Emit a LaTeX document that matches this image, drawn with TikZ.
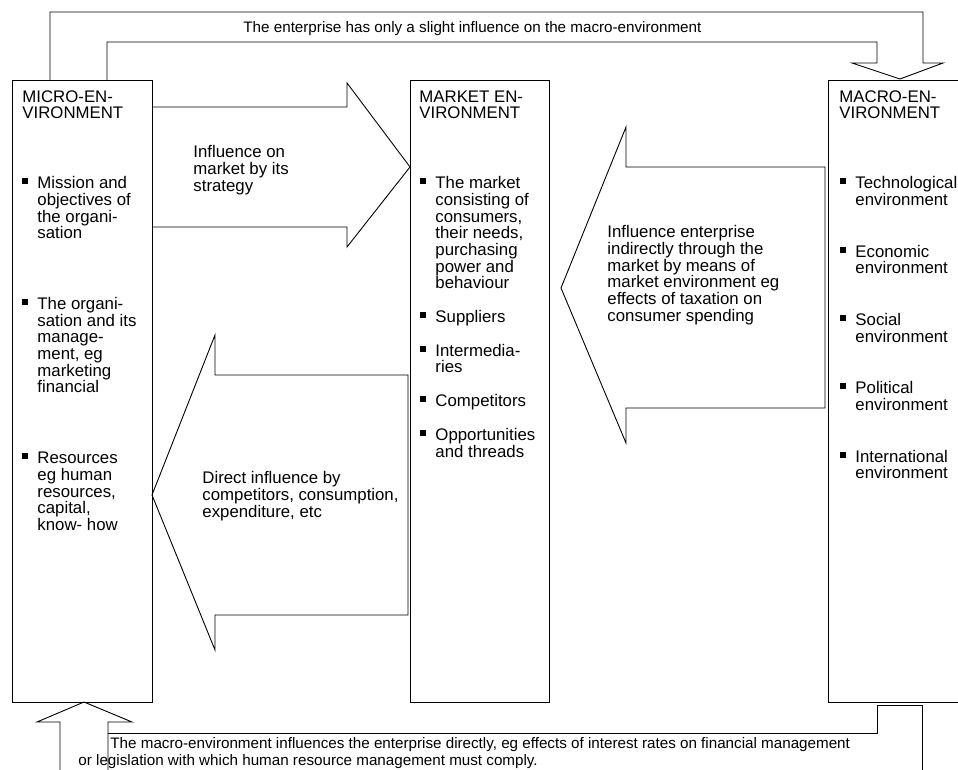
\documentclass[tikz,border=0pt]{standalone}
\usepackage{fontspec}
\setmainfont{Liberation Sans}
% small filled square used as list bullet, hung to the left of the text
\newcommand{\bsq}{\llap{\rule[4.5pt]{6pt}{6pt}\hspace{9pt}}}
\begin{document}
\begin{tikzpicture}[x=1pt,y=-1pt,line width=0.9pt,
  envbox/.style={draw,anchor=north west,inner sep=0pt,minimum height=622pt},
  bodytext/.style={anchor=north west,align=left,inner sep=0pt,
    font=\fontsize{16.8}{16.7}\selectfont},
  labeltext/.style={anchor=north west,align=left,inner sep=0pt,
    font=\fontsize{15.2}{16.5}\selectfont},
  blockarrow/.style={draw,line join=miter}]
\useasboundingbox (0,0) rectangle (958,770);
\clip (0,0) rectangle (958,770);

% the three environment boxes
\node[envbox,minimum width=140pt] (micro)  at (12,80)  {};
\node[envbox,minimum width=139pt] (market) at (410,80) {};
\node[envbox,minimum width=150pt] (macro)  at (828,80) {};

% box headings
\node[bodytext] (microtitle)  at (22,90)  {MICRO-EN-\\VIRONMENT};
\node[bodytext] (markettitle) at (419,90) {MARKET EN-\\VIRONMENT};
\node[bodytext] (macrotitle)  at (839,90) {MACRO-EN-\\VIRONMENT};

% bullet lists
\node[bodytext] (microlist) at (37,176) {\bsq Mission and\\objectives of\\the organi-\\sation\\[54pt]
  \bsq The organi-\\sation and its\\manage-\\ment, eg\\marketing\\financial\\[54pt]
  \bsq Resources\\eg human\\resources,\\capital,\\know- how};
\node[bodytext] (marketlist) at (435,176) {\bsq The market\\consisting of\\consumers,\\their needs,\\purchasing\\power and\\behaviour\\[17pt]
  \bsq Suppliers\\[17pt]
  \bsq Intermedia-\\ries\\[17pt]
  \bsq Competitors\\[17pt]
  \bsq Opportunities\\and threads};
\node[bodytext] (macrolist) at (855,176) {\bsq Technological\\environment\\[35pt]
  \bsq Economic\\environment\\[35pt]
  \bsq Social\\environment\\[35pt]
  \bsq Political\\environment\\[35pt]
  \bsq International\\environment};

% block arrow: micro -> market
\draw[blockarrow] (152,107) -- (347,107) -- (347,83) -- (410,167)
  -- (347,247) -- (347,227) -- (152,227);
\node[bodytext] (strategytext) at (193,145) {Influence on\\market by its\\strategy};

% block arrow: market -> micro
\draw[blockarrow] (408,375) -- (215,375) -- (215,335) -- (152,495)
  -- (215,650) -- (215,615) -- (408,615) -- cycle;
\node[bodytext] (directtext) at (202,471) {Direct influence by\\competitors, consumption,\\expenditure, etc};

% block arrow: macro -> market
\draw[blockarrow] (825,167) -- (626,167) -- (626,127) -- (561,288)
  -- (626,443) -- (626,408) -- (825,408) -- cycle;
\node[bodytext] (indirecttext) at (607,225) {Influence enterprise\\indirectly through the\\market by means of\\market environment eg\\effects of taxation on\\consumer spending};

% bent arrow over the top: micro -> macro
\draw[blockarrow] (50,80) -- (50,12) -- (923,12) -- (923,63) -- (943,63)
  -- (900,79) -- (852,63) -- (877,63) -- (877,42) -- (107,42) -- (107,80);
\node[labeltext] (toplabel) at (243,21) {The enterprise has only a slight influence on the macro-environment};

% bent arrow underneath: macro -> micro
\draw[blockarrow] (60,775) -- (60,722) -- (37,722) -- (84,702) -- (132,722)
  -- (108,722) -- (108,775);
\draw[blockarrow] (108,733) -- (877,733) -- (877,705) -- (922,705) -- (922,775);
\node[labeltext] (bottomlabel1) at (110,737) {The macro-environment influences the enterprise directly, eg effects of interest rates on financial management};
\node[labeltext] (bottomlabel2) at (78,754) {or legislation with which human resource management must comply.};
\end{tikzpicture}
\end{document}
